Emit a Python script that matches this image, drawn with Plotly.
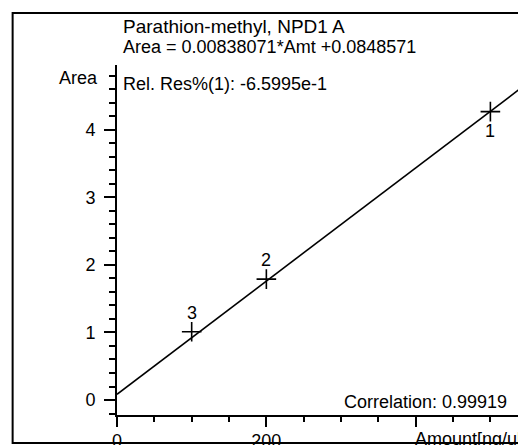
import plotly.graph_objects as go

# ---- data ----
amounts = [500, 200, 100]
areas = [4.27, 1.79, 1.01]
point_labels = ["1", "2", "3"]
label_side = [-1, 1, 1]  # -1 below, +1 above

slope = 0.00838071
intercept = 0.0848571

x_tickvals = [0, 200, 400]
x_ticktext = ["0", "200", ""]
y_tickvals = [0, 1, 2, 3, 4]
y_ticktext = ["0", "1", "2", "3", "4"]

title_line1 = "Parathion-methyl, NPD1 A"
title_line2 = "Area = 0.00838071*Amt +0.0848571"
rel_res = "Rel. Res%(1): -6.5995e-1"
corr_text = "Correlation: 0.99919"
x_title = "Amount[ng/ul]"
y_title = "Area"

x_range = [0, 545]
y_range = [-0.222, 4.96]

# ---- layout geometry (window pixels; page body has an 8px margin) ----
OFF = 8
W, H = 526 - OFF, 445 - OFF
L, R, T, B = 116.5, 524, 65, 415
FONT = "Arial, Liberation Sans, sans-serif"
FS = 18


def px(x):
    return (x - L) / (R - L)


def py(y):
    return (B - y) / (B - T)


fig = go.Figure()

# regression line
fig.add_trace(go.Scatter(
    x=x_range, y=[slope * v + intercept for v in x_range],
    mode="lines", line=dict(color="black", width=1.6),
    hoverinfo="skip", showlegend=False,
))

# calibration points
fig.add_trace(go.Scatter(
    x=amounts, y=areas, mode="markers",
    marker=dict(symbol="cross-thin", size=14, line=dict(color="black", width=1.6)),
    showlegend=False,
))

annotations = []
for xv, yv, lab, side in zip(amounts, areas, point_labels, label_side):
    annotations.append(dict(
        x=xv, y=yv, xref="x", yref="y", text=lab, showarrow=False,
        yshift=19 * side, font=dict(family=FONT, size=FS, color="black"),
        xanchor="center", yanchor="middle",
    ))


def ann(text, x, y, xanchor="left", size=FS):
    annotations.append(dict(
        x=px(x), y=py(y), xref="paper", yref="paper", text=text,
        showarrow=False, xanchor=xanchor, yanchor="middle",
        font=dict(family=FONT, size=size, color="black"),
    ))


ann(title_line1, 120.7, 26.5, size=19)
ann(title_line2, 120.7, 47.5)
ann(rel_res, 120.7, 84)
ann(y_title, 99.7, 78, "right")
ann(corr_text, 509.3, 401.5, "right")
ann(x_title, 413.3, 439)

fig.update_layout(
    width=W, height=H,
    margin=dict(l=L - OFF, r=W - (R - OFF), t=T - OFF, b=H - (B - OFF),
                autoexpand=False),
    paper_bgcolor="white", plot_bgcolor="white",
    font=dict(family=FONT, size=FS, color="black"),
    annotations=annotations,
    shapes=[dict(
        type="rect", xref="paper", yref="paper",
        x0=px(12), x1=px(524.5), y0=py(13), y1=py(443),
        line=dict(color="black", width=2), fillcolor="rgba(0,0,0,0)",
        layer="above",
    )],
    xaxis=dict(
        range=x_range, showgrid=False, zeroline=False, automargin=False,
        showline=True, linecolor="black", linewidth=2,
        tickmode="array", tickvals=x_tickvals, ticktext=x_ticktext,
        ticks="outside", ticklen=10, tickwidth=1.5, tickcolor="black",
        ticklabelstandoff=-2,
        minor=dict(dtick=50, tick0=0, ticks="outside", ticklen=5,
                   tickwidth=1.5, tickcolor="black", showgrid=False),
        tickfont=dict(family=FONT, size=FS, color="black"),
        fixedrange=True,
    ),
    yaxis=dict(
        range=y_range, showgrid=False, zeroline=False, automargin=False,
        showline=True, linecolor="black", linewidth=2,
        tickmode="array", tickvals=y_tickvals, ticktext=y_ticktext,
        ticks="outside", ticklen=11, tickwidth=1.5, tickcolor="black",
        ticklabelstandoff=5,
        minor=dict(dtick=0.2, tick0=0, ticks="outside", ticklen=6,
                   tickwidth=1.5, tickcolor="black", showgrid=False),
        tickfont=dict(family=FONT, size=FS, color="black"),
        fixedrange=True,
    ),
)

fig.write_html("out.html", config={"displayModeBar": False})
